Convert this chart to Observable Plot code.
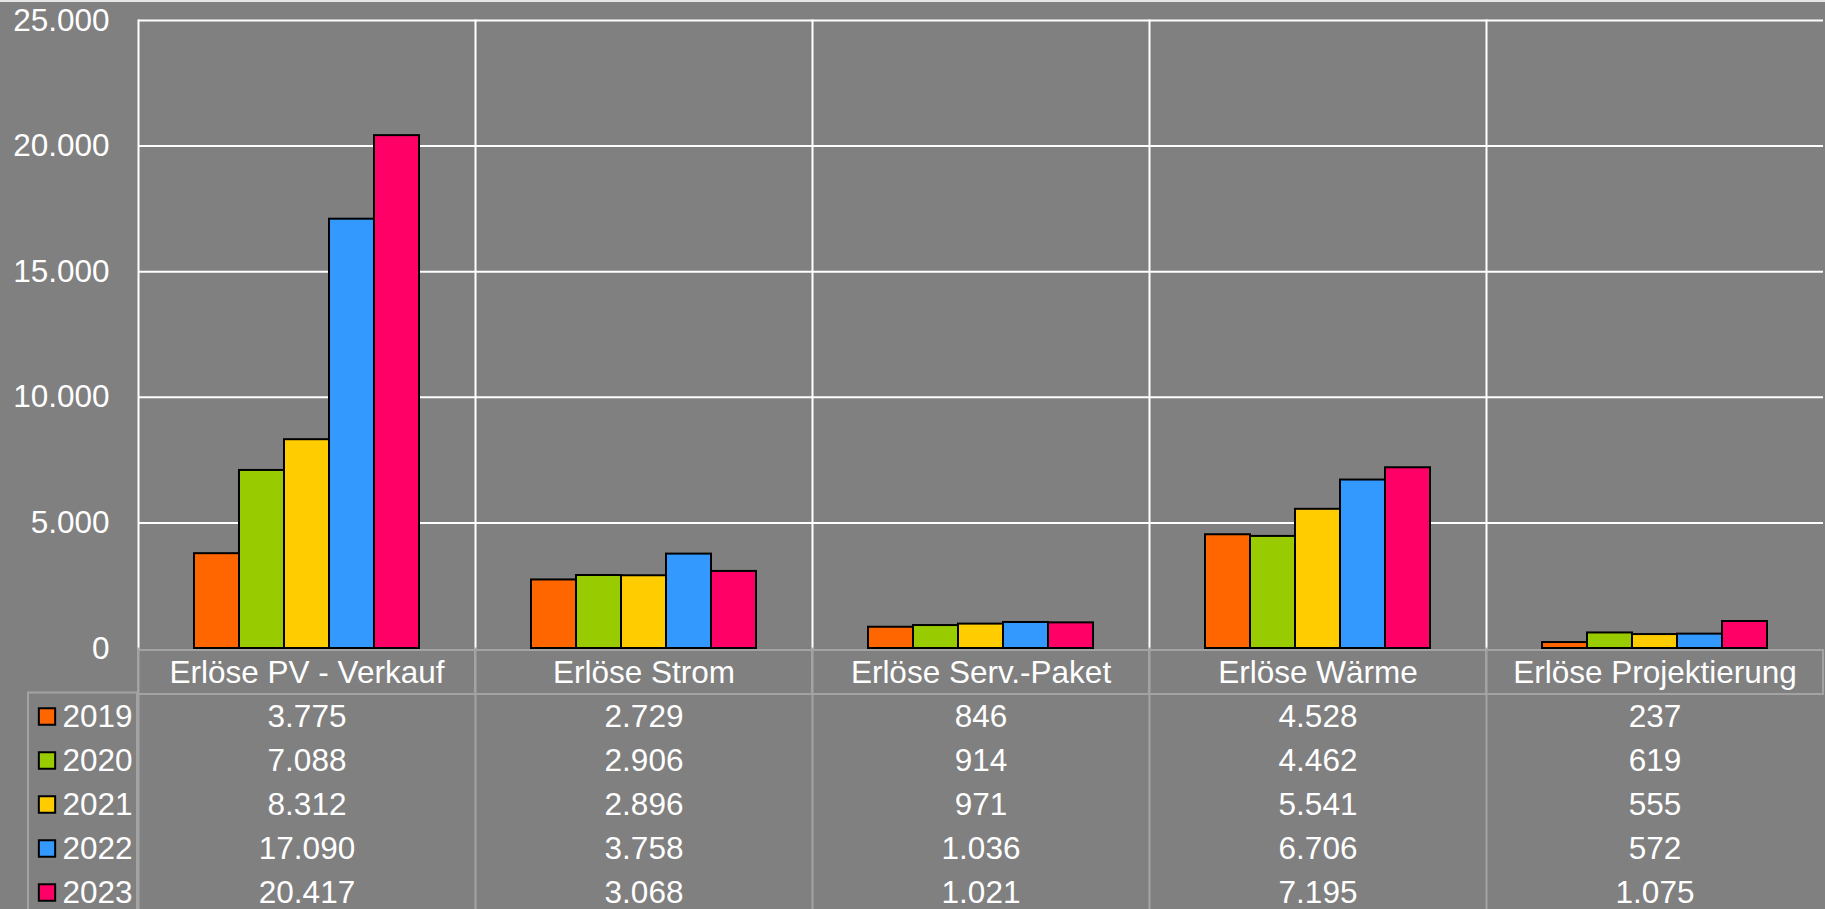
<!DOCTYPE html>
<html>
<head>
<meta charset="utf-8">
<script src="https://cdn.jsdelivr.net/npm/d3@7"></script>
<script src="https://cdn.jsdelivr.net/npm/@observablehq/plot@0.6"></script>
<style>
  html, body { margin: 0; padding: 0; background: #808080; overflow: hidden; }
  #wrap { position: relative; width: 1825px; height: 909px; overflow: hidden; }
  #topline { position: absolute; left: 0; top: 0; width: 1825px; height: 2px; background: #e6e6e6; }
  #chart svg, #table svg { display: block; }
</style>
</head>
<body>
<div id="wrap">
  <div id="chart"></div>
  <div id="table"></div>
  <div id="topline"></div>
</div>
<script>
const categories = ["Erlöse PV - Verkauf", "Erlöse Strom", "Erlöse Serv.-Paket", "Erlöse Wärme", "Erlöse Projektierung"];
const years = ["2019", "2020", "2021", "2022", "2023"];
const v2019 = [3775, 2729, 846, 4528, 237];
const v2020 = [7088, 2906, 914, 4462, 619];
const v2021 = [8312, 2896, 971, 5541, 555];
const v2022 = [17090, 3758, 1036, 6706, 572];
const v2023 = [20417, 3068, 1021, 7195, 1075];
const yTicks = [0, 5000, 10000, 15000, 20000, 25000];
const colors = ["#FF6600", "#99CC00", "#FFCC00", "#3399FF", "#FF0066"];

const series = [v2019, v2020, v2021, v2022, v2023];
const data = years.flatMap((year, j) => categories.map((cat, i) => ({cat, year, value: series[j][i]})));

const de = d3.formatLocale({decimal: ",", thousands: ".", grouping: [3], currency: ["", " €"]});
const fmt = de.format(",d");

const font = "'Liberation Sans', Arial, sans-serif";
const fs = 31.5;
const gridGrey = "#a3a3a3";

const chart = Plot.plot({
  width: 1825,
  height: 648,
  marginTop: 20,
  marginBottom: 0,
  marginLeft: 136,
  marginRight: 0,
  style: {background: "transparent", color: "white", fontFamily: font, fontSize: fs + "px", overflow: "visible"},
  fx: {domain: categories, padding: 0, axis: null},
  x: {domain: years, paddingInner: 0, paddingOuter: 1.22, axis: null},
  y: {domain: [0, 25000], label: null},
  color: {domain: years, range: colors},
  marks: [
    Plot.gridY(yTicks.slice(1), {stroke: "white", strokeOpacity: 1, strokeWidth: 2}),
    Plot.frame({anchor: "left", stroke: "white", strokeWidth: 2}),
    Plot.barY(data, {fx: "cat", x: "year", y: "value", fill: "year", stroke: "black", strokeWidth: 2}),
    Plot.axisY(yTicks, {tickSize: 0, tickPadding: 29, tickFormat: fmt, fontSize: fs, fill: "white", label: null})
  ]
});
document.getElementById("chart").appendChild(chart);

const table = Plot.plot({
  width: 1825,
  height: 261,
  marginTop: 0,
  marginBottom: 0,
  marginLeft: 136,
  marginRight: 0,
  style: {background: "transparent", color: "white", fontFamily: font, fontSize: fs + "px", overflow: "visible"},
  fx: {domain: categories, padding: 0, axis: null},
  x: {domain: ["all"], padding: 0, axis: null},
  y: {domain: ["header", ...years], range: [0, 267], padding: 0, axis: null},
  color: {domain: years, range: colors},
  marks: [
    Plot.frame({anchor: "left", stroke: gridGrey, strokeWidth: 2}),
    Plot.cell(["header"], {x: () => "all", y: d => d, fill: "none", stroke: gridGrey, strokeWidth: 2}),
    Plot.rect([null], {fx: () => categories[0], fill: "none", stroke: gridGrey, strokeWidth: 2,
      insetLeft: -110, insetRight: 338, insetTop: 44.5, insetBottom: -10}),
    Plot.text(categories, {fx: d => d, x: () => "all", y: () => "header", text: d => d, fill: "white", fontSize: fs}),
    Plot.text(data, {fx: "cat", x: () => "all", y: "year", text: d => fmt(d.value), fill: "white", fontSize: fs}),
    Plot.dot(years, {fx: () => categories[0], y: d => d, frameAnchor: "left", dx: -91.5, symbol: "square", r: 9.2,
      fill: d => d, stroke: "black", strokeWidth: 2}),
    Plot.text(years, {fx: () => categories[0], y: d => d, frameAnchor: "left", dx: -76, textAnchor: "start",
      text: d => d, fill: "white", fontSize: fs})
  ]
});
document.getElementById("table").appendChild(table);
</script>
</body>
</html>
